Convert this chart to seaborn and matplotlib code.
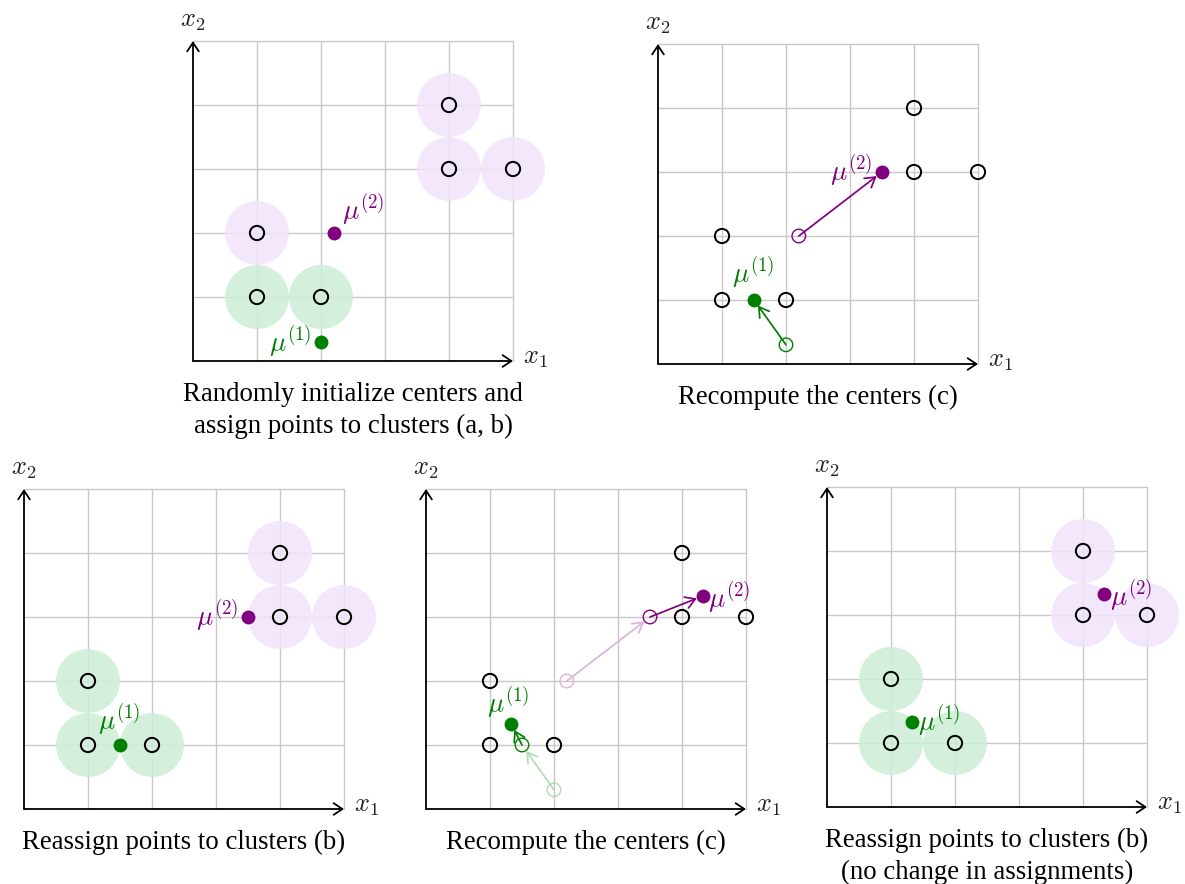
import matplotlib
matplotlib.use("Agg")
import matplotlib.pyplot as plt
from matplotlib.patches import Circle, FancyArrowPatch
import seaborn as sns
import pandas as pd

sns.set_theme(style="white")
plt.rcParams["font.family"] = ["Liberation Serif", "DejaVu Serif"]
plt.rcParams["mathtext.fontset"] = "cm"

# data points
pts_x1 = [1, 2, 1, 4, 5, 4]
pts_x2 = [1, 1, 2, 3, 3, 4]

# cluster assignments (0 -> cluster 1, 1 -> cluster 2)
assign_init = [0, 0, 1, 1, 1, 1]
assign_next = [0, 0, 0, 1, 1, 1]

# centers across iterations: (mu1, mu2)
mu_init = [(2.0, 0.3), (2.2, 2.0)]
mu_iter1 = [(1.5, 1.0), (3.5, 3.0)]
mu_iter2 = [(1.33, 1.33), (4.33, 3.33)]

titles = [
    ["Randomly initialize centers and", "assign points to clusters (a, b)"],
    ["Recompute the centers (c)"],
    ["Reassign points to clusters (b)"],
    ["Recompute the centers (c)"],
    ["Reassign points to clusters (b)", "(no change in assignments)"],
]

MU_COLORS = ["#008000", "#800080"]
SHADE_COLORS = ["#cdeed8", "#f1e3fc"]
FAINT_COLORS = ["#b3dcb3", "#dcb3dc"]
GRID_COLOR = "#c8c8c8"

W, H = 1185, 884
UNIT = 64.0
XL, XR, YB, YT = -0.4, 6.0, -1.4, 5.7

fig = plt.figure(figsize=(W / 100, H / 100), dpi=100)
fig.patch.set_facecolor("white")

pts = pd.DataFrame({"x1": pts_x1, "x2": pts_x2})


def make_axes(ox, oy):
    left = (ox + XL * UNIT) / W
    bottom = 1 - (oy - YB * UNIT) / H
    width = (XR - XL) * UNIT / W
    height = (YT - YB) * UNIT / H
    ax = fig.add_axes([left, bottom, width, height])
    ax.patch.set_alpha(0)
    ax.set_axis_off()
    # grid
    for k in range(1, 6):
        ax.plot([k, k], [0, 5], color=GRID_COLOR, lw=1.0, zorder=1)
        ax.plot([0, 5], [k, k], color=GRID_COLOR, lw=1.0, zorder=1)
    # axes with arrow heads
    for end in [(5, 0), (0, 5)]:
        ax.annotate("", xy=end, xytext=(0, 0),
                    arrowprops=dict(arrowstyle="->,head_length=0.45,head_width=0.3",
                                    lw=1.3, color="black", shrinkA=0, shrinkB=0,
                                    mutation_scale=14),
                    zorder=3)
    ax.text(5.15, 0.03, r"$x_1$", fontsize=19, ha="left", va="center", color="#222222")
    ax.text(0.0, 5.3, r"$x_2$", fontsize=19, ha="center", va="center", color="#222222")
    return ax


def shade(ax, assign):
    for x, y, c in zip(pts_x1, pts_x2, assign):
        ax.add_patch(Circle((x, y), 0.5, facecolor=SHADE_COLORS[c], edgecolor="none",
                            alpha=0.85, zorder=2))


def draw_points(ax):
    sns.scatterplot(data=pts, x="x1", y="x2", ax=ax, s=105, marker="o",
                    facecolor="none", edgecolor="black", linewidth=1.45,
                    legend=False, zorder=5)


def draw_centers(ax, mus, labels):
    for k, ((mx, my), (lx, ly)) in enumerate(zip(mus, labels)):
        sns.scatterplot(x=[mx], y=[my], ax=ax, s=100, color=MU_COLORS[k],
                        linewidth=0, legend=False, zorder=7)
        ax.text(lx, ly, r"$\mu^{(%d)}$" % (k + 1), fontsize=19.5, color=MU_COLORS[k],
                ha="center", va="center", zorder=8)


def old_center(ax, pos, color, lw=1.0):
    sns.scatterplot(x=[pos[0]], y=[pos[1]], ax=ax, s=95, marker="o",
                    facecolor="none", edgecolor=color, linewidth=lw,
                    legend=False, zorder=6)


def move_arrow(ax, start, end, color, shrink_end):
    ax.add_patch(FancyArrowPatch(start, end,
                                 arrowstyle="->,head_length=0.5,head_width=0.3",
                                 mutation_scale=14, lw=1.25, color=color,
                                 shrinkA=0, shrinkB=shrink_end, zorder=6))


def finish(ax, ox_title):
    for i, line in enumerate(ox_title):
        ax.text(2.5, -0.63 - 0.5 * i, line, fontsize=19.3, ha="center",
                va="baseline", color="black")
    ax.set_xlim(XL, XR)
    ax.set_ylim(YB, YT)


# panel 1: random initialization and assignment
ax = make_axes(193, 361)
shade(ax, assign_init)
draw_points(ax)
draw_centers(ax, mu_init, [(1.52, 0.30), (2.66, 2.36)])
finish(ax, titles[0])

# panel 2: recompute centers
ax = make_axes(658, 364)
draw_points(ax)
for k in range(2):
    old_center(ax, mu_init[k], MU_COLORS[k])
    move_arrow(ax, mu_init[k], mu_iter1[k], MU_COLORS[k], 4.8)
draw_centers(ax, mu_iter1, [(1.48, 1.42), (3.02, 3.02)])
finish(ax, titles[1])

# panel 3: reassign
ax = make_axes(24, 809)
shade(ax, assign_next)
draw_points(ax)
draw_centers(ax, mu_iter1, [(1.48, 1.40), (3.02, 3.02)])
finish(ax, titles[2])

# panel 4: recompute centers again
ax = make_axes(426, 809)
draw_points(ax)
for k in range(2):
    old_center(ax, mu_init[k], FAINT_COLORS[k])
    move_arrow(ax, mu_init[k], mu_iter1[k], FAINT_COLORS[k], 5.2)
    old_center(ax, mu_iter1[k], MU_COLORS[k])
    move_arrow(ax, mu_iter1[k], mu_iter2[k], MU_COLORS[k], 4.8)
draw_centers(ax, mu_iter2, [(1.28, 1.66), (4.74, 3.30)])
finish(ax, titles[3])

# panel 5: reassign, nothing changes
ax = make_axes(827, 807)
shade(ax, assign_next)
draw_points(ax)
draw_centers(ax, mu_iter2, [(1.75, 1.35), (4.75, 3.30)])
finish(ax, titles[4])

fig.savefig("out.png", dpi=100, facecolor="white")
